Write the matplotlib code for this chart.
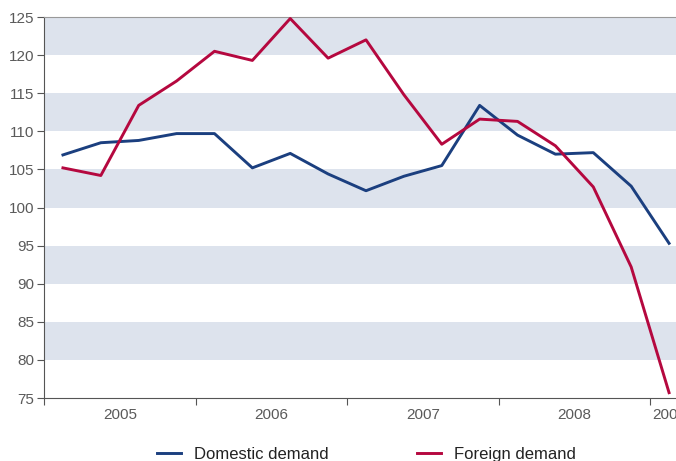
import matplotlib
matplotlib.use("Agg")
import matplotlib.pyplot as plt
from matplotlib.ticker import FixedLocator, NullFormatter

quarters = ["2005Q1", "2005Q2", "2005Q3", "2005Q4",
            "2006Q1", "2006Q2", "2006Q3", "2006Q4",
            "2007Q1", "2007Q2", "2007Q3", "2007Q4",
            "2008Q1", "2008Q2", "2008Q3", "2008Q4",
            "2009Q1"]
domestic = [106.9, 108.5, 108.8, 109.7, 109.7, 105.2, 107.1, 104.4, 102.2,
            104.1, 105.5, 113.4, 109.5, 107.0, 107.2, 102.8, 95.3]
foreign = [105.2, 104.2, 113.4, 116.6, 120.5, 119.3, 124.8, 119.6, 122.0,
           114.8, 108.3, 111.6, 111.3, 108.1, 102.7, 92.2, 75.7]
year_labels = ["2005", "2006", "2007", "2008", "2009"]
series_names = ["Domestic demand", "Foreign demand"]

plt.rcParams["font.family"] = ["Liberation Sans Narrow", "Liberation Sans", "DejaVu Sans"]

x = [int(q[:4]) + (int(q[-1]) - 0.5) / 4 for q in quarters]

fig = plt.figure(figsize=(6.76, 4.61), dpi=100)
ax = fig.add_axes([44/676, (461-398)/461, (688-44)/676, (398-17)/461])

ax.set_xlim(2005, 2009.25)
ax.set_ylim(75, 125)

for lo in [80, 90, 100, 110, 120]:
    ax.axhspan(lo, lo + 5, color="#dde3ed", lw=0, zorder=0)

blue = "#1b3f7f"
red = "#b5083f"
ax.plot(x, domestic, color=blue, lw=2.1, label=series_names[0], zorder=3)
ax.plot(x, foreign, color=red, lw=2.1, label=series_names[1], zorder=3)

ax.set_yticks(range(75, 126, 5))
ax.tick_params(axis="y", direction="out", length=5, width=0.8, color="#555555",
               labelcolor="#5a5a5a", labelsize=11, pad=2)

ax.xaxis.set_major_locator(FixedLocator([2005, 2006, 2007, 2008, 2009]))
ax.xaxis.set_major_formatter(NullFormatter())
ax.tick_params(axis="x", which="major", direction="out", length=5, width=0.8, color="#555555")
ax.xaxis.set_minor_locator(FixedLocator([2005.5, 2006.5, 2007.5, 2008.5, 2009.125]))
ax.set_xticklabels(year_labels, minor=True)
ax.tick_params(axis="x", which="minor", length=0, labelcolor="#5a5a5a", labelsize=11, pad=7)

ax.spines["right"].set_visible(False)
ax.spines["top"].set_color("#999999")
ax.spines["top"].set_linewidth(0.8)
for s in ["left", "bottom"]:
    ax.spines[s].set_color("#555555")
    ax.spines[s].set_linewidth(0.8)

fig.legend(loc="center", bbox_to_anchor=(366/676, 0.014), ncol=2, frameon=False,
           fontsize=12, handlelength=1.44, handletextpad=0.78, columnspacing=5.3,
           labelcolor="#222222")

fig.savefig("out.png", dpi=100)
